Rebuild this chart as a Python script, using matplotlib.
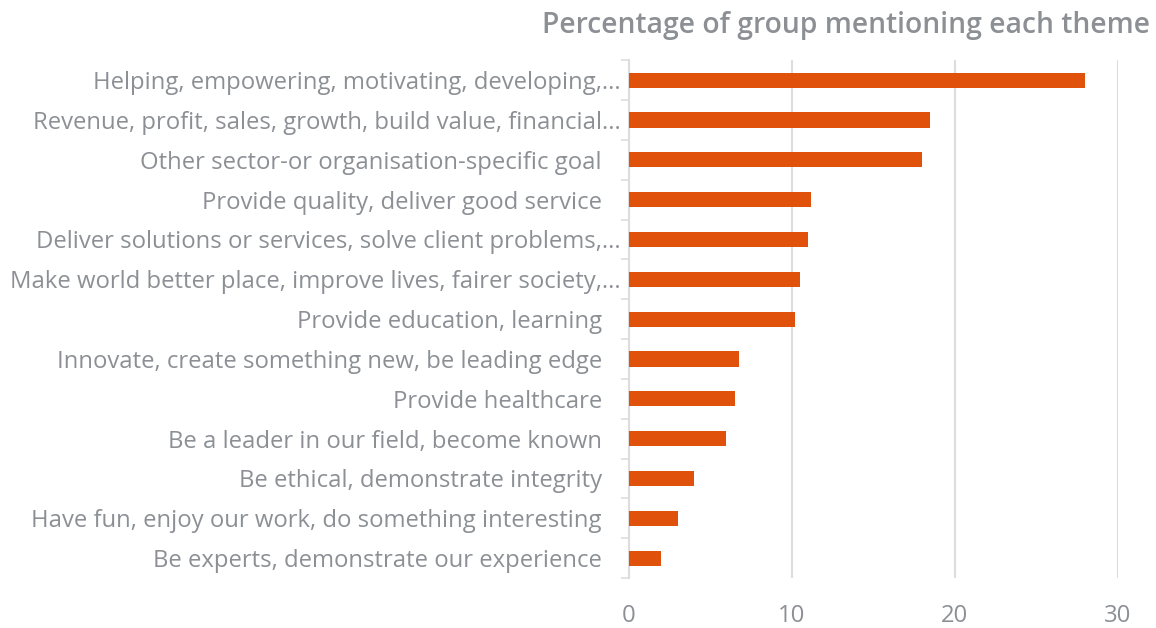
import matplotlib
matplotlib.use("Agg")
import matplotlib.pyplot as plt
from matplotlib.ticker import FixedLocator

# ---------------------------------------------------------------------------
# Donnees
# ---------------------------------------------------------------------------
themes = [
    "Helping, empowering, motivating, developing,...",
    "Revenue, profit, sales, growth, build value, financial...",
    "Other sector-or organisation-specific goal   ",
    "Provide quality, deliver good service   ",
    "Deliver solutions or services, solve client problems,...",
    "Make world better place, improve lives, fairer society,...",
    "Provide education, learning   ",
    "Innovate, create something new, be leading edge   ",
    "Provide healthcare   ",
    "Be a leader in our field, become known   ",
    "Be ethical, demonstrate integrity   ",
    "Have fun, enjoy our work, do something interesting   ",
    "Be experts, demonstrate our experience   ",
]
percentages = [28.0, 18.5, 18.0, 11.2, 11.0, 10.5, 10.2, 6.75, 6.5, 5.95, 4.0, 3.0, 1.95]
x_ticks = [0, 10, 20, 30]

BAR_COLOR = "#E0520C"
TEXT_GRAY = "#8C9095"
GRID_GRAY = "#DDDDDD"

plt.rcParams["font.family"] = ["Open Sans", "DejaVu Sans"]

fig = plt.figure(figsize=(11.56, 6.28), dpi=100)
ax = fig.add_axes([0.544, 0.0796, 0.423, 0.8244])

y = list(range(len(themes)))
ax.barh(y, percentages, height=0.38, color=BAR_COLOR, zorder=3)

ax.set_ylim(len(themes) - 0.5, -0.5)
ax.set_xlim(0, 30)

# labels des categories
ax.set_yticks(y)
ax.set_yticklabels(themes, fontsize=17.2, color=TEXT_GRAY)
ax.tick_params(axis="y", length=0, pad=6)
# petits traits entre les categories
ax.yaxis.set_minor_locator(FixedLocator([i - 0.5 for i in range(len(themes) + 1)]))
ax.tick_params(axis="y", which="minor", length=6, color=GRID_GRAY, width=1.2)

ax.set_xticks(x_ticks)
ax.set_xticklabels([str(t) for t in x_ticks], fontsize=17.2, color=TEXT_GRAY)
ax.tick_params(axis="x", length=0, pad=19)
ax.grid(axis="x", color=GRID_GRAY, linewidth=1.5, zorder=0)

for side in ["top", "right", "bottom"]:
    ax.spines[side].set_visible(False)
ax.spines["left"].set_color(GRID_GRAY)
ax.spines["left"].set_linewidth(1.5)

fig.text(0.995, 0.959, "Percentage of group mentioning each theme",
         ha="right", va="center", fontsize=20.3, fontweight="semibold", color=TEXT_GRAY)

fig.savefig("out.png", dpi=100)
